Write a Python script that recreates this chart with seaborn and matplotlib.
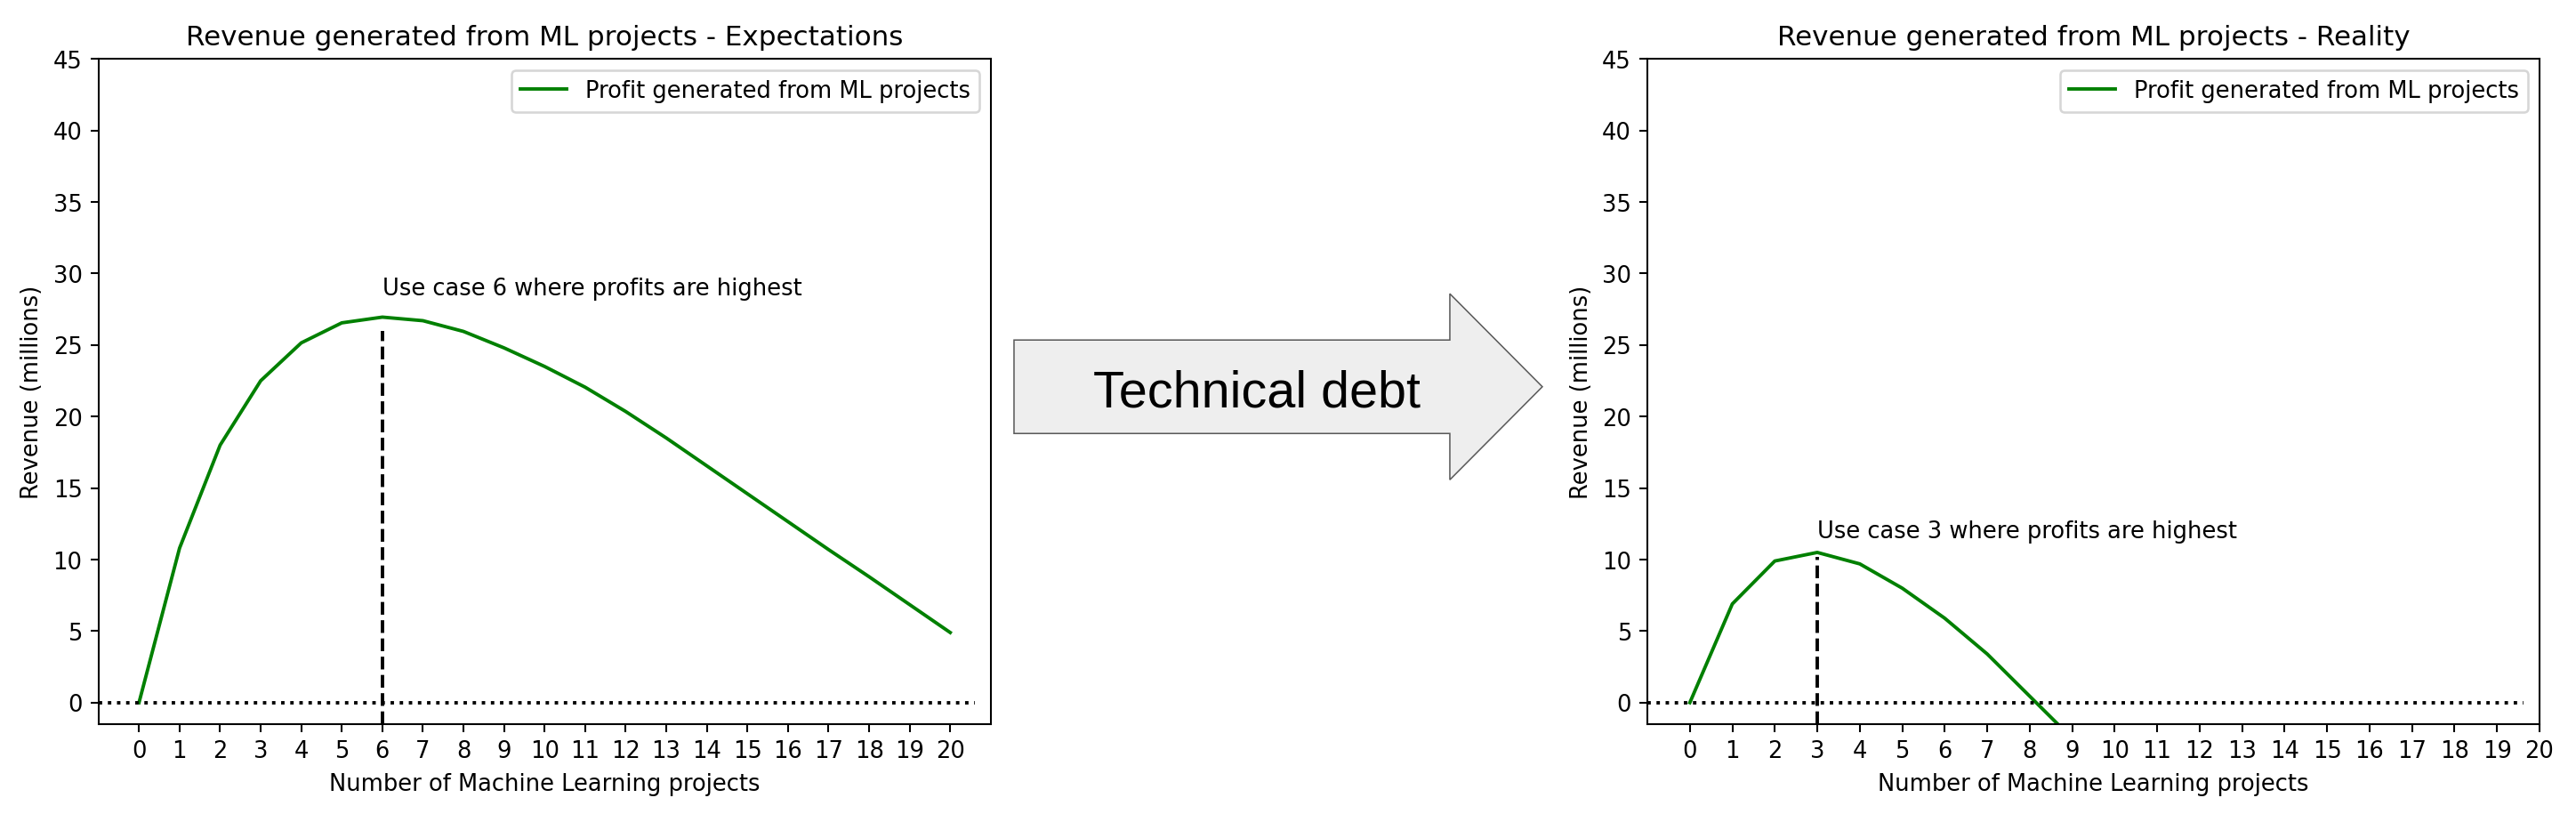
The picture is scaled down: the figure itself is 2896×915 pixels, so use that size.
import numpy as np
import matplotlib
matplotlib.use("Agg")
import matplotlib.pyplot as plt
from matplotlib.patches import FancyArrow
import seaborn as sns

# ==================== data ====================
projects = list(range(21))
profit_expected = [0, 10.8, 18.0, 22.5, 25.15, 26.55, 26.95, 26.7, 25.95, 24.8, 23.5,
                   22.05, 20.35, 18.5, 16.55, 14.6, 12.65, 10.7, 8.8, 6.85, 4.9]
projects_real = list(range(11))
profit_real = [0, 6.9, 9.9, 10.5, 9.7, 8.0, 5.9, 3.4, 0.45, -2.5, -5.6]

best_case = [6, 3]
marker_top = [26.0, 10.2]
note_y = [28.5, 11.5]
titles = ["Revenue generated from ML projects - Expectations",
          "Revenue generated from ML projects - Reality"]
xlims = [(-1, 21), (-1, 20)]
series_label = "Profit generated from ML projects"
arrow_text = "Technical debt"

# ==================== figure ====================
DPI = 185.7
fig = plt.figure(figsize=(15.6, 4.93), dpi=DPI)

ax_left = fig.add_axes([0.0382, 0.1104, 0.3463, 0.8167])
ax_right = fig.add_axes([0.6393, 0.1104, 0.3462, 0.8167])

panels = [
    (ax_left, projects, profit_expected),
    (ax_right, projects_real, profit_real),
]

for i, (ax, xs, ys) in enumerate(panels):
    sns.lineplot(x=xs, y=ys, color="green", linewidth=1.5, label=series_label, ax=ax)
    ax.axhline(0, xmax=0.982, color="black", linestyle=":", linewidth=1.5)
    ax.vlines(best_case[i], -1.5, marker_top[i], colors="black", linestyles="--", linewidth=1.5)
    ax.text(best_case[i], note_y[i],
            f"Use case {best_case[i]} where profits are highest", fontsize=10)

    ax.set_xlim(*xlims[i])
    ax.set_ylim(-1.5, 45)
    ax.set_xticks(range(21))
    ax.set_yticks(range(0, 46, 5))
    ax.set_title(titles[i], fontsize=12)
    ax.set_xlabel("Number of Machine Learning projects", fontsize=10)
    ax.set_ylabel("Revenue (millions)", fontsize=10)
    ax.legend(loc="upper right", fontsize=10)

# ==================== arrow between panels ====================
W, H = 2897, 915
arrow = FancyArrow(1140 / W, 1 - 435 / H, 594 / W, 0,
                   width=105 / H, head_width=209 / H, head_length=104 / W,
                   length_includes_head=True, transform=fig.transFigure,
                   facecolor="#eeeeee", edgecolor="#595959", linewidth=0.6)
fig.patches.append(arrow)
fig.text(0.4876, 1 - 457 / H, arrow_text, ha="center", va="baseline",
         fontsize=22.3, family=["Liberation Sans", "DejaVu Sans"])

fig.savefig("out.png", dpi=DPI)
